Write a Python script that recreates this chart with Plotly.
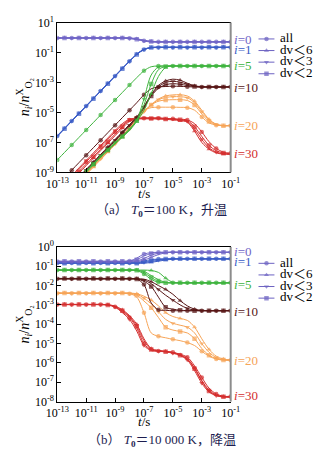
import plotly.graph_objects as go

# ---------------- data (log10 of t and of n_i / n^X_O2) ----------------
t_exp = [-13, -12.5, -12, -11.5, -11, -10.5, -10, -9.5, -9, -8.5, -8, -7.5, -7,
         -6.5, -6, -5.5, -5, -4.5, -4, -3.5, -3, -2.5, -2, -1.5, -1]

species = ["<i>i</i>=0", "<i>i</i>=1", "<i>i</i>=5", "<i>i</i>=10", "<i>i</i>=20", "<i>i</i>=30"]
variants = ["all", "dv＜6", "dv＜3", "dv＜2"]

# (a) T0 = 100 K, heating
a_i0_all = [-0.03]*10 + [-0.05, -0.12, -0.22, -0.28] + [-0.29]*11
a_i0_dv6 = [-0.01]*10 + [-0.02, -0.08, -0.18, -0.25] + [-0.27]*11
a_i0_dv3 = [-0.05]*10 + [-0.07, -0.14, -0.24, -0.30] + [-0.31]*11
a_i0_dv2 = [-0.04]*10 + [-0.06, -0.11, -0.20, -0.27] + [-0.30]*11

a_i1_all = [-6.57, -6.07, -5.57, -5.07, -4.57, -4.07, -3.57, -3.07, -2.57, -2.07, -1.58, -1.12, -0.80, -0.68, -0.66] + [-0.66]*10
a_i1_dv6 = [-6.55, -6.05, -5.55, -5.05, -4.55, -4.05, -3.55, -3.05, -2.55, -2.05, -1.56, -1.10, -0.78, -0.66, -0.64] + [-0.64]*10
a_i1_dv3 = [-6.59, -6.09, -5.59, -5.09, -4.59, -4.09, -3.59, -3.09, -2.59, -2.09, -1.60, -1.14, -0.81, -0.69, -0.67] + [-0.67]*10
a_i1_dv2 = [-6.58, -6.08, -5.58, -5.08, -4.58, -4.08, -3.58, -3.08, -2.58, -2.08, -1.59, -1.13, -0.80, -0.67, -0.65] + [-0.65]*10

a_i5_all = [-8.17, -7.67, -7.17, -6.67, -6.17, -5.67, -5.17, -4.67, -4.17, -3.67, -3.17, -2.68, -2.22, -1.95, -1.90] + [-1.90]*10
a_i5_dv6 = [-11.0, -10.5, -10.0, -9.5, -9.0, -8.5, -8.0, -7.55, -7.1, -6.65, -6.2, -5.6, -4.85, -3.75, -2.6, -2.0, -1.9] + [-1.9]*8
a_i5_dv3 = [-10.9, -10.4, -9.9, -9.4, -8.9, -8.4, -7.9, -7.45, -7.0, -6.55, -6.1, -5.5, -4.1, -2.5, -1.97, -1.9] + [-1.9]*9
a_i5_dv2 = [-10.95, -10.45, -9.95, -9.45, -8.95, -8.45, -7.95, -7.5, -7.05, -6.6, -6.15, -5.55, -4.5, -3.1, -2.15, -1.93, -1.9] + [-1.9]*8

a_i10_all = [-9.85, -9.35, -8.85, -8.35, -7.85, -7.35, -6.85, -6.35, -5.85, -5.35, -4.85, -4.35, -3.82, -3.42, -3.3, -3.27, -3.25, -3.26, -3.28, -3.3] + [-3.3]*5
a_i10_dv6 = [-10.8, -10.3, -9.8, -9.3, -8.8, -8.3, -7.8, -7.3, -6.8, -6.3, -5.8, -5.3, -4.6, -3.8, -3.2, -2.9, -2.78, -2.85, -3.05, -3.22, -3.28] + [-3.3]*4
a_i10_dv3 = [-10.85, -10.35, -9.85, -9.35, -8.85, -8.35, -7.85, -7.35, -6.85, -6.35, -5.85, -5.35, -4.65, -3.85, -3.3, -3.0, -2.92, -2.98, -3.12, -3.25, -3.3] + [-3.3]*4
a_i10_dv2 = [-10.9, -10.4, -9.9, -9.4, -8.9, -8.4, -7.9, -7.4, -6.9, -6.4, -5.9, -5.4, -4.7, -3.9, -3.4, -3.15, -3.08, -3.12, -3.2, -3.27, -3.3] + [-3.3]*4

a_i20_all = [-11.0, -10.5, -10.0, -9.5, -9.0, -8.5, -8.0, -7.5, -7.0, -6.5, -6.0, -5.35, -4.85, -4.68, -4.65, -4.65, -4.65, -4.66, -4.68, -4.85, -5.3, -5.7, -5.85, -5.88, -5.88]
a_i20_dv6 = [-11.15, -10.65, -10.15, -9.65, -9.15, -8.65, -8.15, -7.65, -7.15, -6.65, -6.15, -5.5, -5.0, -4.5, -4.1, -3.9, -3.83, -3.82, -3.9, -4.25, -4.85, -5.45, -5.78, -5.88, -5.88]
a_i20_dv3 = [-11.1, -10.6, -10.1, -9.6, -9.1, -8.6, -8.1, -7.6, -7.1, -6.6, -6.1, -5.45, -4.95, -4.5, -4.15, -4.0, -3.95, -3.95, -4.02, -4.35, -4.95, -5.5, -5.8, -5.88, -5.88]
a_i20_dv2 = [-11.05, -10.55, -10.05, -9.55, -9.05, -8.55, -8.05, -7.55, -7.05, -6.55, -6.05, -5.4, -4.9, -4.5, -4.25, -4.17, -4.15, -4.15, -4.2, -4.5, -5.1, -5.6, -5.83, -5.88, -5.88]

a_i30_all = [-10.3, -9.8, -9.3, -8.8, -8.3, -7.8, -7.3, -6.8, -6.3, -5.85, -5.5, -5.4, -5.38, -5.37, -5.38, -5.4, -5.42, -5.45, -5.5, -5.75, -6.3, -6.95, -7.4, -7.65, -7.72]
a_i30_dv6 = [-10.55, -10.05, -9.55, -9.05, -8.55, -8.05, -7.55, -7.05, -6.55, -6.05, -5.6, -5.45, -5.43, -5.43, -5.44, -5.46, -5.5, -5.55, -5.65, -6.25, -7.0, -7.45, -7.7, -7.78, -7.8]
a_i30_dv3 = [-10.2, -9.7, -9.2, -8.7, -8.2, -7.7, -7.2, -6.7, -6.2, -5.75, -5.45, -5.38, -5.36, -5.36, -5.37, -5.4, -5.44, -5.5, -5.6, -6.1, -6.8, -7.35, -7.65, -7.75, -7.78]
a_i30_dv2 = [-10.45, -9.95, -9.45, -8.95, -8.45, -7.95, -7.45, -6.95, -6.45, -5.95, -5.55, -5.42, -5.4, -5.4, -5.41, -5.43, -5.45, -5.48, -5.55, -5.95, -6.6, -7.2, -7.55, -7.7, -7.75]

# (b) T0 = 10 000 K, cooling
b_i0_all = [-0.75]*10 + [-0.73, -0.58, -0.37, -0.30] + [-0.28]*11
b_i0_dv6 = [-0.77]*10 + [-0.77, -0.75, -0.68, -0.54, -0.40, -0.31, -0.28] + [-0.28]*8
b_i0_dv3 = [-0.76]*10 + [-0.75, -0.72, -0.60, -0.43, -0.33, -0.29] + [-0.28]*9
b_i0_dv2 = [-0.74]*10 + [-0.73, -0.66, -0.47, -0.34, -0.29] + [-0.28]*10

b_i1_all = [-0.83]*11 + [-0.80, -0.73, -0.66, -0.63] + [-0.62]*10
b_i1_dv6 = [-0.85]*13 + [-0.80, -0.74, -0.68, -0.64, -0.62] + [-0.62]*7
b_i1_dv3 = [-0.82]*12 + [-0.81, -0.76, -0.69, -0.64, -0.62] + [-0.62]*8
b_i1_dv2 = [-0.84]*12 + [-0.79, -0.71, -0.65, -0.63] + [-0.62]*9

b_i5_all = [-1.20]*11 + [-1.23, -1.40, -1.68, -1.83, -1.86] + [-1.86]*9
b_i5_dv6 = [-1.20]*13 + [-1.22, -1.32, -1.62, -1.83, -1.86] + [-1.86]*7
b_i5_dv3 = [-1.21]*12 + [-1.27, -1.48, -1.70, -1.83, -1.86] + [-1.86]*8
b_i5_dv2 = [-1.19]*11 + [-1.21, -1.33, -1.58, -1.78, -1.85] + [-1.86]*9

b_i10_all = [-1.65]*11 + [-1.67, -1.95, -2.90, -3.25, -3.28] + [-3.30]*9
b_i10_dv6 = [-1.63]*11 + [-1.64, -1.67, -1.80, -2.00, -2.20, -2.45, -2.78, -3.05, -3.22, -3.28] + [-3.30]*4
b_i10_dv3 = [-1.66]*11 + [-1.67, -1.72, -1.90, -2.20, -2.50, -2.75, -3.00, -3.18, -3.27] + [-3.30]*5
b_i10_dv2 = [-1.64]*11 + [-1.66, -1.78, -2.05, -2.60, -3.12, -3.22, -3.27] + [-3.30]*7

b_i20_all = [-2.40]*10 + [-2.42, -2.60, -3.40, -4.45, -4.62, -4.70, -4.78, -4.85, -4.95, -5.10, -5.40, -5.65, -5.80, -5.85, -5.86]
b_i20_dv6 = [-2.38]*10 + [-2.39, -2.42, -2.55, -2.75, -3.05, -3.40, -3.60, -3.70, -3.80, -4.15, -4.75, -5.30, -5.65, -5.80, -5.85]
b_i20_dv3 = [-2.41]*10 + [-2.42, -2.45, -2.65, -2.95, -3.35, -3.75, -3.95, -4.05, -4.15, -4.45, -5.00, -5.45, -5.72, -5.83, -5.86]
b_i20_dv2 = [-2.39]*10 + [-2.40, -2.50, -2.80, -3.15, -3.65, -4.15, -4.30, -4.37, -4.45, -4.75, -5.25, -5.60, -5.78, -5.85, -5.86]

b_i30_all = [-2.98]*7 + [-3.00, -3.10, -3.35, -3.65, -4.20, -5.00, -5.33, -5.38, -5.40, -5.45, -5.55, -5.70, -6.15, -6.75, -7.30, -7.60, -7.72, -7.73]
b_i30_dv6 = [-2.97]*7 + [-2.99, -3.06, -3.25, -3.55, -4.00, -4.75, -5.25, -5.35, -5.40, -5.46, -5.58, -5.78, -6.25, -6.90, -7.40, -7.65, -7.74, -7.76]
b_i30_dv3 = [-2.99]*7 + [-3.01, -3.12, -3.40, -3.75, -4.35, -5.10, -5.36, -5.40, -5.43, -5.50, -5.62, -5.85, -6.40, -7.05, -7.50, -7.70, -7.76, -7.77]
b_i30_dv2 = [-2.98]*7 + [-3.00, -3.08, -3.30, -3.60, -4.10, -4.85, -5.30, -5.38, -5.42, -5.47, -5.60, -5.80, -6.30, -6.95, -7.45, -7.68, -7.75, -7.76]

# right-hand label positions (log10 of n)
a_label_y = [-0.14, -0.82, -1.90, -3.32, -5.90, -7.71]
b_label_y = [-0.25, -0.77, -1.92, -3.36, -5.86, -7.70]

x_tick_exp = [-13, -11, -9, -7, -5, -3, -1]
a_ytick_exp = [1, -1, -3, -5, -7, -9]
b_ytick_exp = [0, -1, -2, -3, -4, -5, -6, -7, -8]

# ---------------- styling ----------------
colors = ["#7065c6", "#3b5cc6", "#3fb43f", "#571616", "#f6a457", "#d42e2e"]
legend_color = "#6c62c2"
symbols = ["circle", "triangle-up", "triangle-down", "square"]
SERIF = "Liberation Serif, Times New Roman, serif"
CJK = "Liberation Serif, Noto Sans CJK SC, serif"

a_curves = [[a_i0_all, a_i0_dv6, a_i0_dv3, a_i0_dv2],
            [a_i1_all, a_i1_dv6, a_i1_dv3, a_i1_dv2],
            [a_i5_all, a_i5_dv6, a_i5_dv3, a_i5_dv2],
            [a_i10_all, a_i10_dv6, a_i10_dv3, a_i10_dv2],
            [a_i20_all, a_i20_dv6, a_i20_dv3, a_i20_dv2],
            [a_i30_all, a_i30_dv6, a_i30_dv3, a_i30_dv2]]
b_curves = [[b_i0_all, b_i0_dv6, b_i0_dv3, b_i0_dv2],
            [b_i1_all, b_i1_dv6, b_i1_dv3, b_i1_dv2],
            [b_i5_all, b_i5_dv6, b_i5_dv3, b_i5_dv2],
            [b_i10_all, b_i10_dv6, b_i10_dv3, b_i10_dv2],
            [b_i20_all, b_i20_dv6, b_i20_dv3, b_i20_dv2],
            [b_i30_all, b_i30_dv6, b_i30_dv3, b_i30_dv2]]

t = [10 ** e for e in t_exp]

fig = go.Figure()
for curves, xa, ya in [(a_curves, "x", "y"), (b_curves, "x2", "y2")]:
    for s in range(len(species) - 1, -1, -1):
        for v in range(4):
            lg = curves[s][v]
            sizes = [4.5 if (k + v) % 2 == 0 else 0 for k in range(len(t))]
            fig.add_trace(go.Scatter(
                x=t, y=[10 ** m for m in lg], mode="lines+markers",
                line=dict(color=colors[s], width=1, shape="spline", smoothing=0.9),
                marker=dict(symbol=symbols[v], size=sizes, color=colors[s], line=dict(width=0)),
                xaxis=xa, yaxis=ya, showlegend=False, name=variants[v], hoverinfo="skip"))

# legend keys (drawn on small helper axes)
for xa, ya in [("x3", "y3"), ("x4", "y4")]:
    for v in range(4):
        fig.add_trace(go.Scatter(
            x=[8, 16.5, 25], y=[v, v, v], mode="lines+markers",
            line=dict(color=legend_color, width=1),
            marker=dict(symbol=symbols[v], size=[0, 4.5, 0], color=legend_color, line=dict(width=0)),
            xaxis=xa, yaxis=ya, showlegend=False, hoverinfo="skip"))
    fig.add_trace(go.Scatter(
        x=[31] * 4, y=list(range(4)), mode="text", text=variants, textposition="middle right",
        textfont=dict(family=CJK, size=13, color="black"),
        xaxis=xa, yaxis=ya, showlegend=False, hoverinfo="skip"))

tick_font = dict(family=SERIF, size=12, color="black")
XDOM = [48.3 / 335, 233.3 / 335]

def xaxis_cfg(anchor):
    return dict(type="log", range=[-13, -1], domain=XDOM, anchor=anchor,
                tickvals=[10 ** e for e in x_tick_exp],
                ticktext=["10<sup>%d</sup>" % e for e in x_tick_exp],
                ticks="inside", ticklen=4, tickcolor="black", tickwidth=1,
                showline=True, linecolor="black", linewidth=1, mirror=True,
                showgrid=False, zeroline=False, tickfont=tick_font)

def yaxis_cfg(anchor, rng, dom, exps):
    return dict(type="log", range=rng, domain=dom, anchor=anchor,
                tickvals=[10 ** e for e in exps],
                ticktext=["10<sup>%d</sup>" % e for e in exps],
                ticks="inside", ticklen=4, tickcolor="black", tickwidth=1,
                showline=True, linecolor="black", linewidth=1, mirror=False,
                showgrid=False, zeroline=False, tickfont=tick_font)

hidden = dict(visible=False, showgrid=False, zeroline=False, fixedrange=True)

fig.update_layout(
    width=335, height=456, margin=dict(l=0, r=0, t=0, b=0),
    paper_bgcolor="white", plot_bgcolor="white", showlegend=False,
    xaxis=xaxis_cfg("y"),
    yaxis=yaxis_cfg("x", [-9, 1], [1 - 170 / 456, 1 - 15 / 456], a_ytick_exp),
    xaxis2=xaxis_cfg("y2"),
    yaxis2=yaxis_cfg("x2", [-8, 0], [1 - 407 / 456, 1 - 247 / 456], b_ytick_exp),
    xaxis3=dict(hidden, domain=[255 / 335, 1.0], range=[0, 80], anchor="y3"),
    yaxis3=dict(hidden, domain=[1 - 74 / 456, 1 - 26 / 456], range=[3.5, -0.5], anchor="x3"),
    xaxis4=dict(hidden, domain=[255 / 335, 1.0], range=[0, 80], anchor="y4"),
    yaxis4=dict(hidden, domain=[1 - 306 / 456, 1 - 258 / 456], range=[3.5, -0.5], anchor="x4"),
)

# grey right-hand frame lines
for xr, yr in [("x domain", "y domain"), ("x2 domain", "y2 domain")]:
    fig.add_shape(type="line", xref=xr, yref=yr, x0=1, x1=1, y0=0, y1=1,
                  line=dict(color="#8c8c8c", width=2))

# species labels at right end of curves
for labels_y, xr, yr in [(a_label_y, "x domain", "y"), (b_label_y, "x2 domain", "y2")]:
    for s, name in enumerate(species):
        fig.add_annotation(x=1.01, y=labels_y[s], xref=xr, yref=yr, text=name,
                           showarrow=False, xanchor="left", yanchor="middle",
                           font=dict(family=SERIF, size=13, color=colors[s]))

# axis titles
ytitle = "<i>n</i><sub><i>i</i></sub>/<i>n</i><sup>X</sup><sub>O₂</sub>"
for yc in [92, 327]:
    fig.add_annotation(x=13 / 335, y=1 - yc / 456, xref="paper", yref="paper", text=ytitle,
                       textangle=-90, showarrow=False, xanchor="center", yanchor="middle",
                       font=dict(family=SERIF, size=14, color="black"))
for yc in [192, 428]:
    fig.add_annotation(x=141 / 335, y=1 - yc / 456, xref="paper", yref="paper", text="<i>t</i>/s",
                       showarrow=False, xanchor="center", yanchor="middle",
                       font=dict(family=SERIF, size=13, color="black"))

# captions
fig.add_annotation(x=160 / 335, y=1 - 209 / 456, xref="paper", yref="paper",
                   text="（a） <i>T</i><sub><b>0</b></sub>＝100 K，升温", showarrow=False,
                   xanchor="center", yanchor="middle",
                   font=dict(family=CJK, size=13, color="#1d1d50"))
fig.add_annotation(x=160 / 335, y=1 - 447 / 456, xref="paper", yref="paper",
                   text="（b） <i>T</i><sub><b>0</b></sub>＝10 000 K，降温", showarrow=False,
                   xanchor="center", yanchor="middle",
                   font=dict(family=CJK, size=13, color="#1d1d50"))

fig.write_html("out.html")
